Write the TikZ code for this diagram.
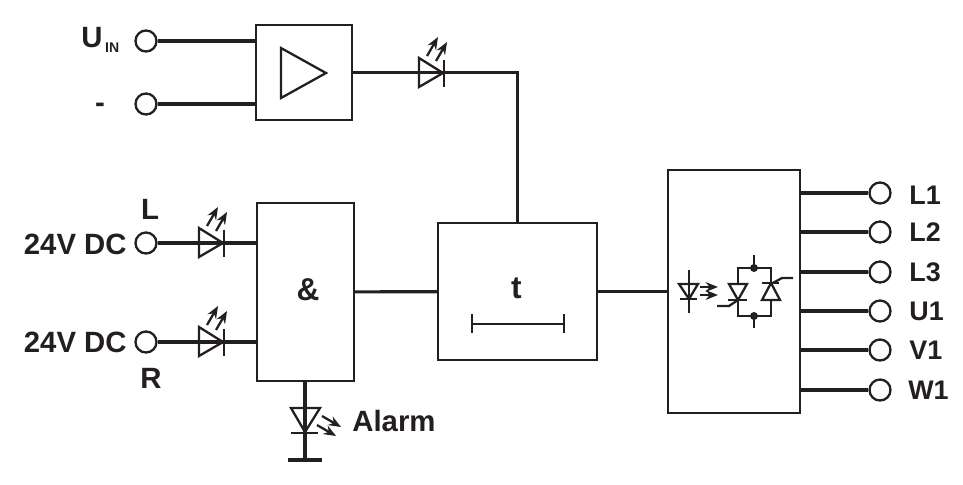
\documentclass[tikz,border=0pt]{standalone}
\usepackage{fontspec}
\setmainfont{Liberation Sans}
\usetikzlibrary{arrows.meta}
\definecolor{ink}{HTML}{231F20}

\begin{document}
\begin{tikzpicture}[x=0.02cm,y=-0.02cm,color=ink,
  term node/.style={circle,draw,line width=1.3pt,fill=white,inner sep=0pt,minimum size=0.42cm},
  box node/.style={rectangle,draw,line width=1.3pt,inner sep=0pt},
  text node/.style={inner sep=0pt,font=\fontsize{16.7}{18}\selectfont\bfseries},
  out node/.style={inner sep=0pt,anchor=west,font=\fontsize{15.3}{18}\selectfont\bfseries},
  big node/.style={inner sep=0pt,font=\fontsize{18}{20}\selectfont\bfseries},
  wire/.style={line width=1.8pt},
  sym/.style={line width=1.3pt},
  ray/.style={line width=1.3pt,-{Stealth[length=7pt,width=5.5pt]}},
  pics/led/.style={code={
    \draw[sym] (-24,-15) -- (-24,14) -- (0,0) -- cycle;
    \draw[sym] (1,-13) -- (1,14);
    \draw[ray] (-16,-17) -- (-5,-36);
    \draw[ray] (-7,-12) -- (4,-31);
  }}]
  \useasboundingbox (0,0) rectangle (963,484);

  \node[box node,minimum width=1.92cm,minimum height=1.9cm] (amp) at (304,72.5) {};
  \node[box node,minimum width=1.94cm,minimum height=3.56cm] (gate) at (305.5,292) {};
  \node[box node,minimum width=3.18cm,minimum height=2.74cm] (timer) at (517.5,291.5) {};
  \node[box node,minimum width=2.64cm,minimum height=4.86cm] (opto) at (734,291.5) {};

  \node[term node] (uin) at (146,41) {};
  \node[term node] (minus) at (146,104) {};
  \node[term node] (dcl) at (146,243) {};
  \node[term node] (dcr) at (146,342) {};
  \node[term node] (l1) at (880,193) {};
  \node[term node] (l2) at (880,232) {};
  \node[term node] (l3) at (880,272) {};
  \node[term node] (u1) at (880,311) {};
  \node[term node] (v1) at (880,350) {};
  \node[term node] (w1) at (880,390) {};

  \node[text node,anchor=west] (uintext) at (81,40) {U\hspace{1.5pt}\raisebox{-2.8pt}{\fontsize{8}{8}\selectfont IN}};
  \node[text node] (minustext) at (100,108) {-};
  \node[text node] (ltext) at (150,209) {L};
  \node[text node] (rtext) at (151,378) {R};
  \node[text node,anchor=east] (dcltext) at (127,244) {24V DC};
  \node[text node,anchor=east] (dcrtext) at (127,342) {24V DC};
  \node[text node,anchor=west] (alarmtext) at (352,421) {Alarm};
  \node[out node] (l1text) at (909,195) {L1};
  \node[out node] (l2text) at (909,232) {L2};
  \node[out node] (l3text) at (909,272) {L3};
  \node[out node] (u1text) at (909,311) {U1};
  \node[out node] (v1text) at (909,350) {V1};
  \node[out node] (w1text) at (908,390) {W1};
  \node[big node] (andtext) at (308,290) {\&};
  \node[big node] (ttext) at (516.5,288) {t};

  \coordinate (earth) at (305,460);

  \path[wire]
  (uin) edge (uin -| amp.west)
  (minus) edge (minus -| amp.west)
  (dcl) edge (dcl -| gate.west)
  (dcr) edge (dcr -| gate.west)
  (gate) edge (timer)
  (timer) edge (opto)
  (gate.south -| earth) edge (earth)
  (l1 -| opto.east) edge (l1)
  (l2 -| opto.east) edge (l2)
  (l3 -| opto.east) edge (l3)
  (u1 -| opto.east) edge (u1)
  (v1 -| opto.east) edge (v1)
  (w1 -| opto.east) edge (w1);
  \draw[wire] (amp.east) -| (timer.north);
  \draw[wire] (288,460) -- (322,460);

  % leds on the wires
  \pic at (443,73) {led};
  \pic at (223,243) {led};
  \pic at (223,342) {led};
  \pic[rotate=-90] at (305,432) {led};

  % amplifier and timer marks
  \draw[sym] (281,48) -- (281,98) -- (326,73) -- cycle;
  \draw[sym] (472,324) -- (564,324);
  \draw[sym] (472,314) -- (472,333);
  \draw[sym] (564,314) -- (564,333);

  % coupler inside the last box
  \draw[sym] (679,284) -- (698,284) -- (689,299) -- cycle;
  \draw[sym] (680,299) -- (697,299);
  \draw[sym] (689,270) -- (689,313);
  \draw[ray] (700,287) -- (718,287);
  \draw[ray] (700,295) -- (718,295);
  \draw[sym] (729,284) -- (747,284) -- (738,300) -- cycle;
  \draw[sym] (728,300) -- (747,300);
  \draw[sym] (762,300) -- (780,300) -- (771,283) -- cycle;
  \draw[sym] (762,283) -- (779,283);
  \draw[sym] (738,284) -- (738,268) -- (771,268) -- (771,283);
  \draw[sym] (738,300) -- (738,316) -- (771,316) -- (771,300);
  \draw[sym] (754,255) -- (754,268);
  \draw[sym] (754,316) -- (754,328);
  \fill (754,268) circle (4);
  \fill (754,316) circle (4);
  \draw[sym] (717,306) -- (729,306) -- (738,300);
  \draw[sym] (793,278) -- (782,278) -- (771,284);
\end{tikzpicture}
\end{document}
